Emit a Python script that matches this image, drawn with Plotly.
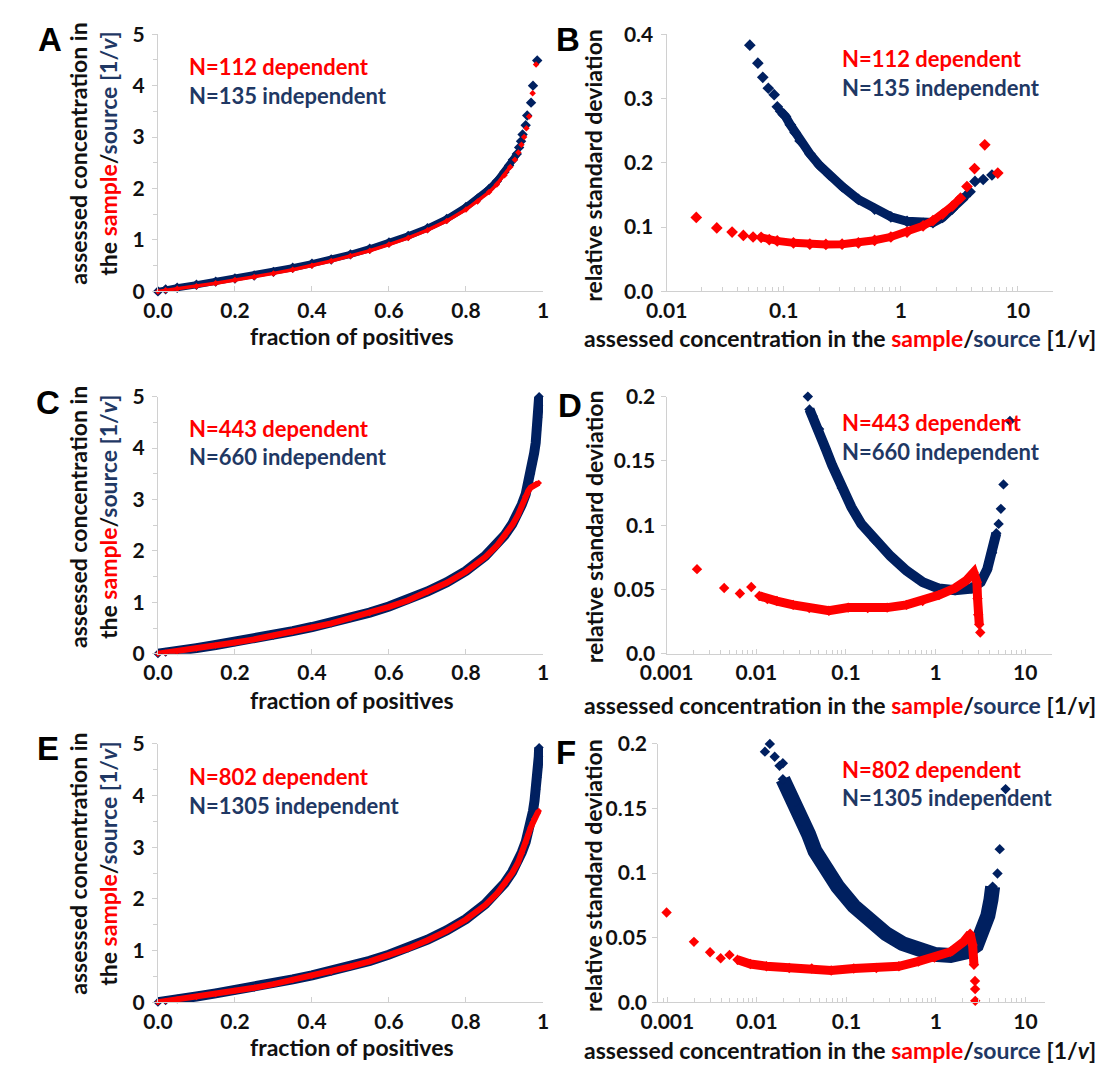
import plotly.graph_objects as go

# ---------------- data ----------------
# Panel A: concentration vs. fraction of positives
a_ind_x = [0.000, 0.020, 0.050, 0.100, 0.150, 0.200, 0.250, 0.300, 0.350, 0.400, 0.450, 0.500, 0.550, 0.600, 0.650,
           0.700, 0.750, 0.800, 0.830, 0.860, 0.880, 0.900, 0.912, 0.922, 0.932, 0.938, 0.943, 0.947, 0.955, 0.959,
           0.969, 0.974, 0.985]
a_ind_y = [0.00, 0.04, 0.07, 0.13, 0.19, 0.25, 0.31, 0.38, 0.46, 0.54, 0.62, 0.72, 0.83, 0.95, 1.08,
           1.23, 1.41, 1.64, 1.80, 1.99, 2.14, 2.32, 2.45, 2.56, 2.67, 2.80, 2.92, 3.05, 3.23, 3.42,
           3.67, 4.00, 4.49]
a_dep_x = [0.000, 0.020, 0.050, 0.100, 0.150, 0.200, 0.250, 0.300, 0.350, 0.400, 0.450, 0.500, 0.550, 0.600, 0.650,
           0.700, 0.750, 0.800, 0.830, 0.860, 0.880, 0.900, 0.915, 0.927, 0.936, 0.944, 0.951, 0.957, 0.964, 0.973,
           0.982]
a_dep_y = [0.00, 0.02, 0.05, 0.10, 0.16, 0.22, 0.28, 0.35, 0.42, 0.50, 0.59, 0.69, 0.79, 0.91, 1.04,
           1.19, 1.37, 1.59, 1.75, 1.93, 2.08, 2.26, 2.42, 2.56, 2.70, 2.85, 3.00, 3.17, 3.40, 3.85,
           4.41]

# Panel C
c_ind_x = [0.000, 0.020, 0.050, 0.100, 0.150, 0.200, 0.250, 0.300, 0.350, 0.400, 0.450, 0.500, 0.550, 0.600, 0.650,
           0.700, 0.750, 0.800, 0.850, 0.880, 0.900, 0.920, 0.935, 0.945, 0.955, 0.962, 0.968, 0.973, 0.977, 0.981,
           0.984, 0.987, 0.989, 0.990]
c_ind_y = [0.00, 0.03, 0.06, 0.11, 0.17, 0.23, 0.29, 0.36, 0.44, 0.52, 0.60, 0.70, 0.80, 0.92, 1.05,
           1.21, 1.39, 1.61, 1.90, 2.12, 2.30, 2.52, 2.72, 2.90, 3.10, 3.30, 3.50, 3.70, 3.90, 4.10,
           4.35, 4.60, 4.82, 5.00]
c_dep_x = [0.000, 0.020, 0.050, 0.100, 0.150, 0.200, 0.250, 0.300, 0.350, 0.400, 0.450, 0.500, 0.550, 0.600, 0.650,
           0.700, 0.750, 0.800, 0.850, 0.880, 0.900, 0.920, 0.935, 0.945, 0.954, 0.962, 0.968, 0.975, 0.982, 0.989]
c_dep_y = [0.00, 0.02, 0.05, 0.10, 0.16, 0.22, 0.28, 0.35, 0.43, 0.51, 0.59, 0.69, 0.79, 0.91, 1.04,
           1.20, 1.38, 1.60, 1.88, 2.10, 2.28, 2.50, 2.70, 2.88, 3.06, 3.17, 3.23, 3.27, 3.30, 3.32]

# Panel E
e_ind_x = [0.000, 0.020, 0.050, 0.100, 0.150, 0.200, 0.250, 0.300, 0.350, 0.400, 0.450, 0.500, 0.550, 0.600, 0.650,
           0.700, 0.750, 0.800, 0.850, 0.880, 0.900, 0.920, 0.935, 0.945, 0.955, 0.963, 0.969, 0.974, 0.978, 0.982,
           0.985, 0.987, 0.989, 0.990]
e_ind_y = [0.00, 0.03, 0.06, 0.11, 0.17, 0.23, 0.29, 0.36, 0.44, 0.52, 0.60, 0.70, 0.80, 0.92, 1.05,
           1.21, 1.39, 1.61, 1.90, 2.12, 2.30, 2.52, 2.72, 2.90, 3.10, 3.30, 3.50, 3.70, 3.90, 4.12,
           4.35, 4.55, 4.75, 4.93]
e_dep_x = [0.000, 0.020, 0.050, 0.100, 0.150, 0.200, 0.250, 0.300, 0.350, 0.400, 0.450, 0.500, 0.550, 0.600, 0.650,
           0.700, 0.750, 0.800, 0.850, 0.880, 0.900, 0.920, 0.935, 0.945, 0.955, 0.962, 0.968, 0.973, 0.977, 0.981,
           0.985, 0.989]
e_dep_y = [0.00, 0.02, 0.05, 0.10, 0.16, 0.22, 0.28, 0.35, 0.43, 0.51, 0.59, 0.69, 0.79, 0.91, 1.04,
           1.20, 1.38, 1.60, 1.88, 2.10, 2.28, 2.50, 2.70, 2.88, 3.08, 3.25, 3.38, 3.48, 3.55, 3.60,
           3.65, 3.70]

# Panel B: relative standard deviation vs. assessed concentration
b_ind_x = [0.0513, 0.0601, 0.0662, 0.0738, 0.0828, 0.0881, 0.094, 0.1035, 0.1138, 0.125, 0.138, 0.167, 0.202,
           0.245, 0.316, 0.434, 0.597, 0.822, 1.13, 1.55, 1.88, 2.27, 2.75, 3.13, 3.55, 3.90, 4.30, 5.05, 6.00]
b_ind_y = [0.383, 0.355, 0.333, 0.316, 0.306, 0.287, 0.280, 0.272, 0.259, 0.247, 0.234, 0.214, 0.196,
           0.181, 0.163, 0.143, 0.128, 0.116, 0.109, 0.106, 0.107, 0.115, 0.128, 0.140, 0.148, 0.155, 0.171, 0.174, 0.181]
b_dep_x = [0.0179, 0.0268, 0.0362, 0.0452, 0.0547, 0.0641, 0.0752, 0.088, 0.121, 0.167, 0.229, 0.315, 0.434,
           0.597, 0.822, 1.13, 1.55, 1.88, 2.27, 2.75, 3.23, 3.67, 4.26, 5.21, 6.73]
b_dep_y = [0.115, 0.0987, 0.0922, 0.087, 0.0846, 0.0841, 0.0805, 0.0785, 0.0755, 0.0735, 0.073, 0.0735, 0.0755,
           0.0795, 0.0846, 0.0922, 0.102, 0.110, 0.120, 0.1327, 0.145, 0.163, 0.191, 0.228, 0.184]

# Panel D
d_ind_x = [0.0376, 0.0392, 0.0425, 0.0502, 0.0593, 0.070, 0.0898, 0.115, 0.148, 0.206, 0.313, 0.473, 0.717,
           1.09, 1.65, 2.49, 3.19, 3.77, 4.27, 4.76, 5.05, 5.35, 5.72, 6.75]
d_ind_y = [0.200, 0.190, 0.1848, 0.1747, 0.1595, 0.1468, 0.129, 0.114, 0.101, 0.0886, 0.076, 0.0646, 0.0557,
           0.0507, 0.0494, 0.0507, 0.0557, 0.0658, 0.0785, 0.0937, 0.101, 0.1127, 0.1317, 0.181]
d_dep_x = [0.00218, 0.00438, 0.00656, 0.00879, 0.0108, 0.0133, 0.017, 0.0258, 0.039, 0.0645, 0.106, 0.175,
           0.288, 0.473, 0.717, 1.09, 1.65, 2.20, 2.66, 2.89, 2.94, 2.99, 3.07, 3.15]
d_dep_y = [0.0658, 0.0511, 0.0469, 0.0519, 0.045, 0.0425, 0.041, 0.038, 0.0355, 0.0334, 0.0359, 0.0355,
           0.0359, 0.038, 0.041, 0.0456, 0.0511, 0.057, 0.0633, 0.0557, 0.043, 0.0304, 0.0228, 0.0165]

# Panel F
f_ind_x = [0.0123, 0.01396, 0.0158, 0.0179, 0.0195, 0.0195, 0.023, 0.0271, 0.032, 0.0378, 0.0446, 0.0573, 0.0798,
           0.121, 0.183, 0.277, 0.421, 0.637, 0.964, 1.46, 2.21, 2.84, 3.36, 3.80, 4.12, 4.30, 4.87, 5.16, 6.00]
f_ind_y = [0.194, 0.200, 0.190, 0.183, 0.185, 0.1727, 0.1627, 0.155, 0.140, 0.130, 0.117, 0.1047, 0.0895,
           0.0744, 0.0618, 0.053, 0.0454, 0.0404, 0.037, 0.0361, 0.039, 0.0442, 0.0542, 0.0669, 0.0794, 0.0895,
           0.0996, 0.1185, 0.165]
f_dep_x = [0.00098, 0.00198, 0.0030, 0.00394, 0.00494, 0.00608, 0.00848, 0.0128, 0.023, 0.041, 0.0676, 0.121,
           0.216, 0.386, 0.637, 0.964, 1.46, 2.04, 2.41, 2.57, 2.66, 2.73, 2.74, 2.75]
f_dep_y = [0.0694, 0.0467, 0.0386, 0.034, 0.0366, 0.0328, 0.0295, 0.0278, 0.0265, 0.026, 0.0245, 0.026,
           0.0265, 0.0278, 0.0315, 0.0346, 0.039, 0.0467, 0.053, 0.0442, 0.029, 0.0164, 0.0101, 0.001]

# Series labels
labels = {
    "A": ("N=112 dependent", "N=135 independent"),
    "B": ("N=112 dependent", "N=135 independent"),
    "C": ("N=443 dependent", "N=660 independent"),
    "D": ("N=443 dependent", "N=660 independent"),
    "E": ("N=802 dependent", "N=1305 independent"),
    "F": ("N=802 dependent", "N=1305 independent"),
}

# Tick values / labels
frac_ticks = [0, 0.2, 0.4, 0.6, 0.8, 1]
frac_text = ["0.0", "0.2", "0.4", "0.6", "0.8", "1"]
conc_ticks = [0, 1, 2, 3, 4, 5]
conc_text = ["0", "1", "2", "3", "4", "5"]
rsd_b_ticks = [0, 0.1, 0.2, 0.3, 0.4]
rsd_b_text = ["0.0", "0.1", "0.2", "0.3", "0.4"]
rsd_df_ticks = [0, 0.05, 0.1, 0.15, 0.2]
rsd_df_text = ["0.0", "0.05", "0.1", "0.15", "0.2"]
log_b_ticks = [0.01, 0.1, 1, 10]
log_b_text = ["0.01", "0.1", "1", "10"]
log_df_ticks = [0.001, 0.01, 0.1, 1, 10]
log_df_text = ["0.001", "0.01", "0.1", "1", "10"]

# ---------------- styling ----------------
W, H = 1097, 1074
RED = "#ff0000"
NAVY = "#002060"
NAVY_TXT = "#1f3864"
AXIS_GRAY = "#d0d0d0"
FONT = "Lato"
TXT = "#111111"
TICK_SIZE = 21
TITLE_SIZE = 23

# plot-area boxes in pixels: (left, right, top, bottom)
boxes = {
    "A": (135, 532, 20.7, 284),
    "B": (659.5, 1058, 20.7, 284),
    "C": (135, 532, 391.7, 655),
    "D": (659.5, 1057, 391.7, 655),
    "E": (135, 532, 747.3, 1011.7),
    "F": (651, 1050, 747.3, 1011.7),
}
order = ["A", "B", "C", "D", "E", "F"]


def fx(p):
    return p / W


def fy(p):
    return 1 - p / H


fig = go.Figure()
layout = {}

minor_log = [m * 10.0 ** e for e in range(-4, 2) for m in range(2, 10)]
tick_font = dict(family=FONT, size=TICK_SIZE, color=TXT, weight="bold")

for i, key in enumerate(order):
    l, r, t, b = boxes[key]
    suf = "" if i == 0 else str(i + 1)
    left_col = key in ("A", "C", "E")
    xa = dict(domain=[fx(l), fx(r)], anchor="y" + suf, showgrid=False, zeroline=False,
              showline=True, linecolor=AXIS_GRAY, linewidth=1.3,
              ticks="inside", ticklen=5, tickcolor=AXIS_GRAY, tickwidth=1.3,
              tickfont=tick_font)
    ya = dict(domain=[fy(b), fy(t)], anchor="x" + suf, showgrid=False, zeroline=False,
              showline=True, linecolor=AXIS_GRAY, linewidth=1.3,
              ticks="outside", ticklen=5, tickcolor=AXIS_GRAY, tickwidth=1.3,
              ticklabelstandoff=3, tickfont=tick_font)
    if left_col:
        xa.update(range=[0, 1], tickmode="array", tickvals=frac_ticks, ticktext=frac_text)
        ya.update(range=[0, 5], tickmode="array", tickvals=conc_ticks, ticktext=conc_text,
                  minor=dict(dtick=0.5, ticks="outside", ticklen=4, tickcolor=AXIS_GRAY))
    else:
        if key == "B":
            xa.update(type="log", range=[-2, 1.301], tickmode="array", tickvals=log_b_ticks, ticktext=log_b_text)
            ya.update(range=[0, 0.4], tickmode="array", tickvals=rsd_b_ticks, ticktext=rsd_b_text)
        else:
            rng = [-3, 1.301] if key == "D" else [-3.1, 1.223]
            xa.update(type="log", range=rng, tickmode="array", tickvals=log_df_ticks, ticktext=log_df_text)
            ya.update(range=[0, 0.2], tickmode="array", tickvals=rsd_df_ticks, ticktext=rsd_df_text,
                      ticklabelstandoff=1)
        xa.update(minor=dict(tickvals=minor_log, ticks="inside", ticklen=4, tickcolor=AXIS_GRAY))
    layout["xaxis" + suf] = xa
    layout["yaxis" + suf] = ya

axis_of = {k: ("x" + ("" if i == 0 else str(i + 1)), "y" + ("" if i == 0 else str(i + 1)))
           for i, k in enumerate(order)}


def add_series(key, xs, ys, color, msize, band, lw):
    """Dense run of points drawn as a thick stroke, every point drawn as a diamond."""
    xr, yr = axis_of[key]
    lo, hi = band
    fig.add_trace(go.Scatter(x=xs[lo:hi], y=ys[lo:hi], xaxis=xr, yaxis=yr, mode="lines",
                             line=dict(color=color, width=lw), cliponaxis=False,
                             showlegend=False, hoverinfo="skip"))
    fig.add_trace(go.Scatter(x=xs, y=ys, xaxis=xr, yaxis=yr, mode="markers",
                             marker=dict(symbol="diamond", size=msize, color=color),
                             cliponaxis=False, showlegend=False, hoverinfo="skip"))


# left column: fraction of positives
add_series("A", a_ind_x, a_ind_y, NAVY, 8, (0, 25), 7)
add_series("A", a_dep_x, a_dep_y, RED, 5, (0, 23), 3.5)
add_series("C", c_ind_x, c_ind_y, NAVY, 7, (0, 34), 10)
add_series("C", c_dep_x, c_dep_y, RED, 5, (0, 30), 6)
add_series("E", e_ind_x, e_ind_y, NAVY, 7, (0, 34), 10)
add_series("E", e_dep_x, e_dep_y, RED, 5, (0, 32), 6)

# right column: relative standard deviation
add_series("B", b_ind_x, b_ind_y, NAVY, 9, (6, 25), 9)
add_series("B", b_dep_x, b_dep_y, RED, 9, (5, 21), 8)
add_series("D", d_ind_x, d_ind_y, NAVY, 8, (1, 20), 10)
add_series("D", d_dep_x, d_dep_y, RED, 8, (4, 23), 9)
add_series("F", f_ind_x, f_ind_y, NAVY, 8, (5, 26), 15)
add_series("F", f_dep_x, f_dep_y, RED, 8, (5, 21), 9)

ann = []
title_font = dict(family=FONT, size=TITLE_SIZE, color=TXT, weight="bold")
left_ytitle = ("assessed concentration in<br>the <span style='color:%s'>sample</span>/"
               "<span style='color:%s'>source [1/<i>v</i>]</span>" % (RED, NAVY_TXT))
right_xtitle = ("assessed concentration in the <span style='color:%s'>sample</span>/"
                "<span style='color:%s'>source</span> [1/<i>v</i>]" % (RED, NAVY_TXT))

# panel letters
for key, (x, y) in {"A": (24, 26.5), "B": (558, 26.5), "C": (22, 398),
                    "D": (560, 401), "E": (22, 752), "F": (556, 756)}.items():
    ann.append(dict(x=fx(x), y=fy(y), xref="paper", yref="paper", text=key, showarrow=False,
                    font=dict(family="Liberation Sans", size=33, color="#000", weight="bold"),
                    xanchor="center", yanchor="middle"))

# y titles
for y in (143, 515, 870):
    ann.append(dict(x=fx(68), y=fy(y), xref="paper", yref="paper", text=left_ytitle, textangle=-90,
                    showarrow=False, font=title_font, xanchor="center", yanchor="middle"))
for y in (155, 525, 882):
    ann.append(dict(x=fx(584), y=fy(y), xref="paper", yref="paper", text="relative standard deviation",
                    textangle=-90, showarrow=False, font=title_font, xanchor="center", yanchor="middle"))
# x titles
for y in (330, 702, 1058):
    ann.append(dict(x=fx(335), y=fy(y), xref="paper", yref="paper", text="fraction of positives",
                    showarrow=False, font=title_font, xanchor="center", yanchor="middle"))
for y in (332, 707, 1061):
    ann.append(dict(x=fx(838), y=fy(y), xref="paper", yref="paper", text=right_xtitle,
                    showarrow=False, font=title_font, xanchor="center", yanchor="middle"))

# series labels
label_pos = {"A": (165, 54, 83), "B": (838, 46, 75), "C": (165, 424, 453),
             "D": (838, 418, 448), "E": (165, 781, 810), "F": (838, 773, 802)}
for key, (x, y1, y2) in label_pos.items():
    dep, ind = labels[key]
    ann.append(dict(x=fx(x), y=fy(y1), xref="paper", yref="paper", text=dep, showarrow=False,
                    font=dict(family=FONT, size=22, color=RED, weight="bold"),
                    xanchor="left", yanchor="middle"))
    ann.append(dict(x=fx(x), y=fy(y2), xref="paper", yref="paper", text=ind, showarrow=False,
                    font=dict(family=FONT, size=22, color=NAVY_TXT, weight="bold"),
                    xanchor="left", yanchor="middle"))

fig.update_layout(width=W, height=H, autosize=False, margin=dict(l=0, r=0, t=0, b=0),
                  paper_bgcolor="white", plot_bgcolor="white", annotations=ann,
                  font=dict(family=FONT), **layout)

fig.write_html("out.html")
